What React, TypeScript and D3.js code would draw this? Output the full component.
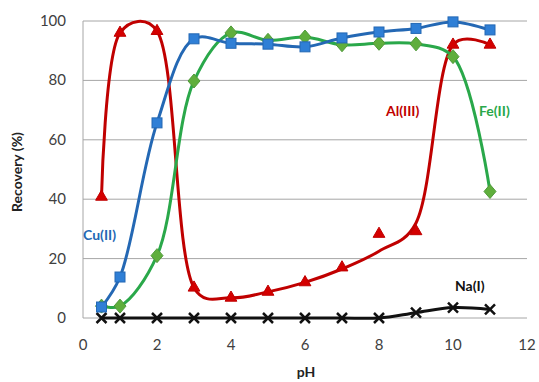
import React from "react";
import * as d3 from "d3";

const ph = [0.5, 1, 2, 3, 4, 5, 6, 7, 8, 9, 10, 11];
const cuValues = [3.7, 13.8, 65.7, 94, 92.5, 92.2, 91.3, 94.3, 96.3, 97.5, 99.7, 97];
const feValues = [4, 4, 21, 79.8, 96, 93.5, 94.6, 92, 92.5, 92.3, 88, 42.6];
const alValues = [40.8, 96, 96.6, 10.2, 6.8, 8.8, 12, 17, 28.3, 29.2, 92, 92];
// smoothed red curve does not go through every triangle
const alCurve = [40.8, 96, 96.6, 10.2, 6.8, 8.8, 12, 16.5, 22.5, 32, 92, 92];
const naValues = [0, 0, 0, 0, 0, 0, 0, 0, 0, 1.8, 3.5, 2.9];
const xTicks = [0, 2, 4, 6, 8, 10, 12];
const yTicks = [0, 20, 40, 60, 80, 100];

const W = 539, H = 382;
const m = { left: 83, right: 12, top: 21, bottom: 64 };

const x = d3.scaleLinear().domain([0, 12]).range([m.left, W - m.right]);
const y = d3.scaleLinear().domain([0, 100]).range([H - m.bottom, m.top]);

const font = "Lato, 'Open Sans', sans-serif";

function smooth(vals: number[], alpha = 0.5) {
	return d3
		.line<number>()
		.x((_, i) => x(ph[i]))
		.y((d) => y(d))
		.curve(d3.curveCatmullRom.alpha(alpha))(vals) as string;
}

export default function App() {
	const sq = 10;
	const tri = d3.symbol(d3.symbolTriangle, 60)() as string;
	const dia = (cx: number, cy: number) => `M${cx},${cy - 7}L${cx + 6},${cy}L${cx},${cy + 7}L${cx - 6},${cy}Z`;
	return (
		<svg width={W} height={H} style={{ position: "absolute", left: 0, top: 0, background: "#fff" }}>
			{/* grid */}
			{yTicks.map((t) => (
				<line key={t} x1={x(0)} x2={x(12)} y1={y(t)} y2={y(t)} stroke="#a6a6a6" strokeWidth={1} />
			))}
			<line x1={x(0)} x2={x(0)} y1={y(0)} y2={y(100)} stroke="#a6a6a6" strokeWidth={1} />
			{yTicks.map((t) => (
				<text key={t} x={66} y={y(t) + 5} textAnchor="end" fontFamily={font} fontSize={15} fill="#404040">
					{t}
				</text>
			))}
			{xTicks.map((t) => (
				<text key={t} x={x(t)} y={350} textAnchor="middle" fontFamily={font} fontSize={15} fill="#404040">
					{t}
				</text>
			))}
			<text x={306} y={377} textAnchor="middle" fontFamily={font} fontSize={14} fontWeight="bold" fill="#222">
				pH
			</text>
			<text
				transform={`translate(22,172) rotate(-90)`}
				textAnchor="middle"
				fontFamily={font}
				fontSize={14}
				fontWeight="bold"
				fill="#222"
			>
				Recovery (%)
			</text>

			{/* lines */}
			<path d={smooth(naValues)} fill="none" stroke="#111" strokeWidth={3} />
			<path d={smooth(alCurve, 0.33)} fill="none" stroke="#c00000" strokeWidth={3} />
			<path d={smooth(feValues)} fill="none" stroke="#2aa84a" strokeWidth={3} />
			<path d={smooth(cuValues)} fill="none" stroke="#2468b4" strokeWidth={3} />

			{/* markers */}
			{naValues.map((v, i) => (
				<path
					key={i}
					d={`M${x(ph[i]) - 5},${y(v) - 5}L${x(ph[i]) + 5},${y(v) + 5}M${x(ph[i]) + 5},${y(v) - 5}L${x(ph[i]) - 5},${y(v) + 5}`}
					stroke="#111"
					strokeWidth={2.5}
				/>
			))}
			{alValues.map((v, i) => (
				<path key={i} d={tri} transform={`translate(${x(ph[i])},${y(v)})`} fill="#d40000" stroke="#c00000" strokeWidth={1} />
			))}
			{feValues.map((v, i) => (
				<path key={i} d={dia(x(ph[i]), y(v))} fill="#5fae3c" stroke="#4f9a3a" strokeWidth={1} />
			))}
			{cuValues.map((v, i) => (
				<rect
					key={i}
					x={x(ph[i]) - sq / 2}
					y={y(v) - sq / 2}
					width={sq}
					height={sq}
					fill="#2f7fd6"
					stroke="#2468b4"
					strokeWidth={1}
				/>
			))}

			{/* series labels */}
			<text x={83} y={240} fontFamily={font} fontSize={14} fontWeight="bold" fill="#2468b4">Cu(II)</text>
			<text x={386} y={116} fontFamily={font} fontSize={14} fontWeight="bold" fill="#c00000">Al(III)</text>
			<text x={479} y={116} fontFamily={font} fontSize={14} fontWeight="bold" fill="#2aa84a">Fe(II)</text>
			<text x={455} y={291} fontFamily={font} fontSize={14} fontWeight="bold" fill="#111">Na(I)</text>
		</svg>
	);
}
